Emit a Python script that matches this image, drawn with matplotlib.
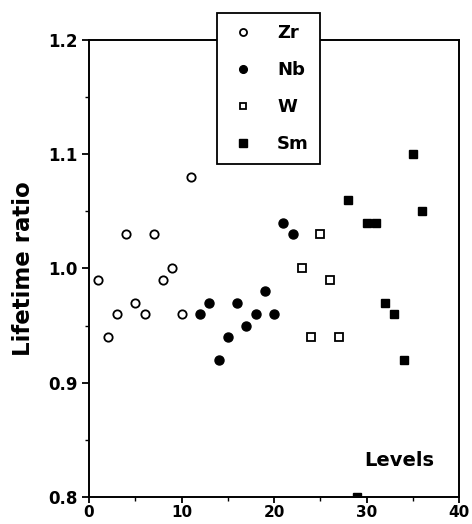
import matplotlib
matplotlib.use('Agg')
import matplotlib.pyplot as plt
from matplotlib.ticker import MultipleLocator

# level index vs lifetime ratio, per element
zr_x = [1, 2, 3, 4, 5, 6, 7, 8, 9, 10, 11]
zr_y = [0.99, 0.94, 0.96, 1.03, 0.97, 0.96, 1.03, 0.99, 1.00, 0.96, 1.08]

nb_x = [12, 13, 14, 15, 16, 17, 18, 19, 20, 21, 22]
nb_y = [0.96, 0.97, 0.92, 0.94, 0.97, 0.95, 0.96, 0.98, 0.96, 1.04, 1.03]

w_x = [23, 24, 25, 26, 27]
w_y = [1.00, 0.94, 1.03, 0.99, 0.94]

sm_x = [28, 29, 30, 31, 32, 33, 34, 35, 36]
sm_y = [1.06, 0.80, 1.04, 1.04, 0.97, 0.96, 0.92, 1.10, 1.05]

plt.rcParams['font.family'] = 'DejaVu Sans'
plt.rcParams['font.weight'] = 'bold'

fig = plt.figure(figsize=(4.72, 5.24), dpi=100)
ax = fig.add_axes([0.1886, 0.0515, 0.7839, 0.8722])

ms = 6
ax.plot(zr_x, zr_y, 'o', ms=ms, mfc='white', mec='black', mew=1.3, label='Zr')
ax.plot(nb_x, nb_y, 'o', ms=ms + 0.5, mfc='black', mec='black', label='Nb')
ax.plot(w_x, w_y, 's', ms=ms - 0.5, mfc='white', mec='black', mew=1.3, label='W')
ax.plot(sm_x, sm_y, 's', ms=ms, mfc='black', mec='black', label='Sm')

ax.set_xlim(0, 40)
ax.set_ylim(0.8, 1.2)
ax.xaxis.set_major_locator(MultipleLocator(10))
ax.xaxis.set_minor_locator(MultipleLocator(5))
ax.yaxis.set_major_locator(MultipleLocator(0.1))
ax.yaxis.set_minor_locator(MultipleLocator(0.05))
ax.tick_params(which='major', direction='out', length=5, width=1.3,
               labelsize=12, pad=3)
ax.tick_params(axis='x', which='major', length=4, labelsize=11, pad=1.5)
ax.tick_params(which='minor', direction='out', length=3, width=1.0)
for lab in ax.get_xticklabels() + ax.get_yticklabels():
    lab.set_fontweight('bold')
for s in ax.spines.values():
    s.set_linewidth(1.4)

ax.set_ylabel('Lifetime ratio', fontsize=16.5, fontweight='bold', labelpad=10)
ax.text(0.838, 0.079, 'Levels', transform=ax.transAxes, ha='center',
        va='center', fontsize=14, fontweight='bold')

leg = fig.legend(loc='center', bbox_to_anchor=(0.462, 0.687, 0.214, 0.288),
                 frameon=True, fancybox=False, fontsize=13, labelspacing=1.05,
                 handletextpad=1.1, borderpad=0.6, handlelength=1.6,
                 markerscale=0.85)
leg.get_frame().set_edgecolor('black')
leg.get_frame().set_linewidth(1.3)
leg.get_frame().set_alpha(1)
for t in leg.get_texts():
    t.set_fontweight('bold')

fig.savefig('out.png', dpi=100)
